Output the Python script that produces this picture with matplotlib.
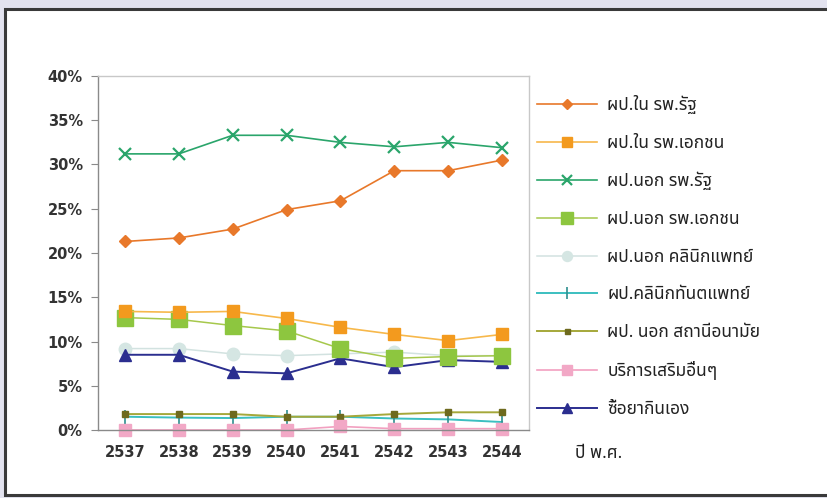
import matplotlib
matplotlib.use("Agg")
import matplotlib.pyplot as plt
from matplotlib import font_manager
from matplotlib.ft2font import FT2Font
from matplotlib.patches import Rectangle

# ---------------- data ----------------
years = ["2537", "2538", "2539", "2540", "2541", "2542", "2543", "2544"]
ytick_vals = [0, 5, 10, 15, 20, 25, 30, 35, 40]
ytick_labels = ["0%", "5%", "10%", "15%", "20%", "25%", "30%", "35%", "40%"]

labels = ["ผป.ใน รพ.รัฐ", "ผป.ใน รพ.เอกชน", "ผป.นอก รพ.รัฐ", "ผป.นอก รพ.เอกชน",
          "ผป.นอก คลินิกแพทย์", "ผป.คลินิกทันตแพทย์", "ผป. นอก สถานีอนามัย",
          "บริการเสริมอื่นๆ", "ซื้อยากินเอง"]

ipd_gov = [21.3, 21.7, 22.7, 24.9, 25.9, 29.3, 29.3, 30.5]
ipd_priv = [13.4, 13.3, 13.4, 12.6, 11.6, 10.8, 10.1, 10.8]
opd_gov = [31.2, 31.2, 33.3, 33.3, 32.5, 32.0, 32.5, 31.9]
opd_priv = [12.7, 12.5, 11.8, 11.2, 9.2, 8.1, 8.3, 8.4]
opd_clinic = [9.2, 9.2, 8.6, 8.4, 8.6, 8.8, 8.4, 8.4]
dental = [1.5, 1.4, 1.35, 1.5, 1.5, 1.3, 1.2, 0.9]
health_station = [1.8, 1.8, 1.8, 1.5, 1.5, 1.8, 2.0, 2.0]
other = [0.0, 0.0, 0.0, 0.0, 0.4, 0.15, 0.15, 0.15]
self_med = [8.5, 8.5, 6.6, 6.4, 8.1, 7.1, 7.9, 7.7]

xlabel = "ปี พ.ศ."

# ---------------- font with Thai glyphs ----------------
def find_thai_font():
    prefs = ["Noto Sans Thai", "Noto Sans Thai UI", "Tlwg Typist", "Loma", "Garuda",
             "Norasi", "Kinnari", "Waree", "Sawasdee", "Umpush", "Laksaman"]
    found = {}
    for f in font_manager.fontManager.ttflist:
        try:
            cm = FT2Font(f.fname).get_charmap()
        except Exception:
            continue
        if ord("ผ") in cm and ord("ป") in cm:
            found.setdefault(f.name, f.fname)
    for p in prefs:
        if p in found:
            return p
    if found:
        return sorted(found)[0]
    return None

thai = find_thai_font()
thai_family = [thai, "DejaVu Sans"] if thai else ["DejaVu Sans"]

# ---------------- figure ----------------
fig = plt.figure(figsize=(8.28, 4.98), dpi=100)
fig.patch.set_facecolor("#E3E3EF")
W, H = 828, 498
frame = Rectangle((5 / W, 3 / H), 1.2, (495 - 9) / H, transform=fig.transFigure,
                  facecolor="white", edgecolor="#3a3a3a", linewidth=2.2, zorder=-5)
fig.patches.append(frame)

ax = fig.add_axes([98 / W, (H - 430) / H, (529 - 98) / W, (430 - 76) / H])
ax.set_facecolor("white")
x = list(range(len(years)))

series = [
    (ipd_gov, dict(color="#E8782A", marker="D", ms=6, mfc="#E8782A", mec="#E8782A", lw=1.2)),
    (ipd_priv, dict(color="#F7B84B", marker="s", ms=9, mfc="#F39A1E", mec="#F39A1E", lw=1.2)),
    (opd_gov, dict(color="#2AA56B", marker="x", ms=9, mfc="#2AA56B", mec="#2AA56B", mew=1.6, lw=1.2)),
    (opd_priv, dict(color="#A6C84C", marker="s", ms=11, mfc="#8DC63F", mec="#8DC63F", lw=1.1)),
    (opd_clinic, dict(color="#D2E2E0", marker="o", ms=9, mfc="#D5E6E3", mec="#D5E6E3", lw=1.1)),
    (dental, dict(color="#3BBFC0", marker="|", ms=10, mfc="#2E8F8F", mec="#2E8F8F", mew=1.2, lw=1.4)),
    (health_station, dict(color="#A5A83A", marker="s", ms=4.5, mfc="#6E6A1E", mec="#6E6A1E", lw=1.4)),
    (other, dict(color="#F2A0C0", marker="s", ms=9, mfc="#F2A8C6", mec="#F2A8C6", lw=1.2)),
    (self_med, dict(color="#2B2E8F", marker="^", ms=9, mfc="#2B2E8F", mec="#2B2E8F", lw=1.4)),
]
order_z = [9, 6, 8, 5, 3, 2, 2, 2, 4]
handles = []
for (vals, st), lab, z in zip(series, labels, order_z):
    h, = ax.plot(x, vals, label=lab, zorder=z, clip_on=False, **st)
    handles.append(h)

ax.set_xlim(-0.5, len(years) - 0.5)
ax.set_ylim(0, 40)
ax.set_xticks(x)
ax.set_xticklabels(years)
ax.set_yticks(ytick_vals)
ax.set_yticklabels(ytick_labels)
for s in ax.spines.values():
    s.set_color("#C8C8C8")
    s.set_linewidth(1.0)
ax.spines["left"].set_color("#8a8a8a")
ax.spines["bottom"].set_color("#8a8a8a")
ax.tick_params(axis="y", length=5, color="#8a8a8a", pad=6, labelsize=10.5,
               labelcolor="#333333")
ax.tick_params(axis="x", length=0, pad=11, labelsize=10.5, labelcolor="#333333")
for t in ax.get_xticklabels() + ax.get_yticklabels():
    t.set_fontweight("bold")
    t.set_family("DejaVu Sans")

leg = fig.legend(handles=handles, labels=labels, loc="upper left",
                 bbox_to_anchor=(537 / W, (H - 95) / H), frameon=False,
                 borderpad=0, borderaxespad=0, markerscale=0.8,
                 handlelength=3.45, handletextpad=0.6, labelspacing=1.14,
                 prop=dict(family=thai_family, size=12.5))
for t in leg.get_texts():
    t.set_color("#222222")

fig.text(575 / W, (H - 453) / H, xlabel, family=thai_family, fontsize=12.5,
         color="#222222", va="center", ha="left")

fig.savefig("out.png", dpi=100, facecolor=fig.get_facecolor())
